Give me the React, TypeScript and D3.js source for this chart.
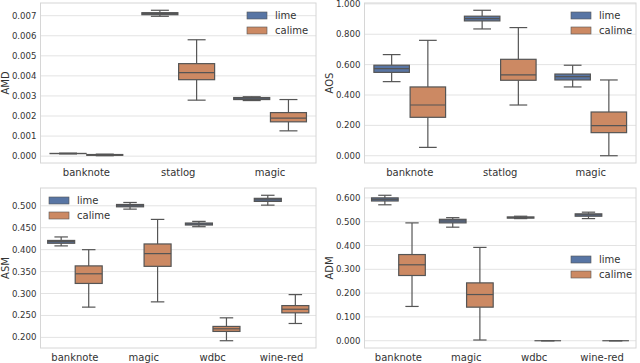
import React from "react";
import * as d3 from "d3";

type Stat = [number, number, number, number, number]; // whiskerLow, q1, median, q3, whiskerHigh

const hues = ["lime", "calime"];
const hueColors = ["#5875a4", "#cc8963"];

const amdCats = ["banknote", "statlog", "magic"];
const amdLime: Stat[] = [
  [0.00011, 0.000125, 0.00013, 0.000135, 0.00015],
  [0.00697, 0.00705, 0.0071, 0.00715, 0.00727],
  [0.00277, 0.00282, 0.00286, 0.00292, 0.00296],
];
const amdCalime: Stat[] = [
  [0.00002, 0.00004, 0.00006, 0.00008, 0.0001],
  [0.00279, 0.00381, 0.00416, 0.00461, 0.0058],
  [0.00126, 0.00171, 0.00189, 0.00217, 0.00282],
];

const aosCats = ["banknote", "statlog", "magic"];
const aosLime: Stat[] = [
  [0.488, 0.549, 0.574, 0.596, 0.666],
  [0.835, 0.888, 0.903, 0.919, 0.958],
  [0.453, 0.499, 0.521, 0.538, 0.596],
];
const aosCalime: Stat[] = [
  [0.055, 0.253, 0.334, 0.453, 0.76],
  [0.334, 0.497, 0.532, 0.635, 0.844],
  [0.0, 0.152, 0.198, 0.288, 0.499],
];

const asmCats = ["banknote", "magic", "wdbc", "wine-red"];
const asmLime: Stat[] = [
  [0.4086, 0.4146, 0.4184, 0.421, 0.429],
  [0.4924, 0.4977, 0.5, 0.503, 0.5076],
  [0.4524, 0.4562, 0.4584, 0.4607, 0.4645],
  [0.5015, 0.51, 0.5136, 0.517, 0.524],
];
const asmCalime: Stat[] = [
  [0.269, 0.323, 0.345, 0.363, 0.4],
  [0.281, 0.362, 0.391, 0.413, 0.469],
  [0.1924, 0.2136, 0.2196, 0.225, 0.2446],
  [0.2317, 0.256, 0.2642, 0.2725, 0.2975],
];

const admCats = ["banknote", "magic", "wdbc", "wine-red"];
const admLime: Stat[] = [
  [0.571, 0.587, 0.594, 0.6, 0.611],
  [0.477, 0.495, 0.503, 0.51, 0.517],
  [0.513, 0.515, 0.5175, 0.52, 0.523],
  [0.513, 0.523, 0.529, 0.533, 0.54],
];
const admCalime: Stat[] = [
  [0.144, 0.274, 0.319, 0.362, 0.495],
  [0.003, 0.141, 0.194, 0.243, 0.392],
  [0, 0, 0, 0, 0],
  [0, 0, 0, 0, 0],
];

const amdTicks = [0, 0.001, 0.002, 0.003, 0.004, 0.005, 0.006, 0.007];
const aosTicks = [0, 0.2, 0.4, 0.6, 0.8, 1.0];
const asmTicks = [0.2, 0.25, 0.3, 0.35, 0.4, 0.45, 0.5];
const admTicks = [0, 0.1, 0.2, 0.3, 0.4, 0.5, 0.6];

const LINE = "#555555";
const GRID = "#e3e3e3";
const TEXT = "#333333";
const FONT = "DejaVu Sans, sans-serif";

interface PanelProps {
  x0: number;
  x1: number;
  y0: number;
  y1: number;
  label: string;
  labelX: number;
  cats: string[];
  series: Stat[][];
  ticks: number[];
  legendX: number;
  legendY: number;
}

function Panel(p: PanelProps) {
  const all = p.series.flat(2);
  const lo = d3.min(all) as number;
  const hi = d3.max(all) as number;
  const pad = (hi - lo) * 0.05;
  const y = d3.scaleLinear().domain([lo - pad, hi + pad]).range([p.y1, p.y0]);
  const x = d3.scaleLinear().domain([-0.5, p.cats.length - 0.5]).range([p.x0, p.x1]);
  const unit = x(1) - x(0);
  const boxW = unit * 0.4 * 0.98;
  const fmt = d3.format(".3f");
  return (
    <g>
      {p.ticks.map((t) => (
        <g key={t}>
          <line x1={p.x0} x2={p.x1} y1={y(t)} y2={y(t)} stroke={GRID} strokeWidth={1} />
          <text x={p.x0 - 4} y={y(t)} dy="0.35em" textAnchor="end" fontSize={8.6} fill={TEXT} fontFamily={FONT}>
            {fmt(t)}
          </text>
        </g>
      ))}
      <rect x={p.x0} y={p.y0} width={p.x1 - p.x0} height={p.y1 - p.y0} fill="none" stroke="#d6d6d6" strokeWidth={1} />
      {p.cats.map((c, i) => (
        <text key={c} x={x(i)} y={p.y1 + 13} textAnchor="middle" fontSize={10} fill={TEXT} fontFamily={FONT}>
          {c}
        </text>
      ))}
      <text
        transform={`translate(${p.labelX},${(p.y0 + p.y1) / 2}) rotate(-90)`}
        textAnchor="middle"
        fontSize={10}
        fill={TEXT}
        fontFamily={FONT}
      >
        {p.label}
      </text>
      {p.series.map((s, h) =>
        s.map((st, i) => {
          const cx = x(i) + (h === 0 ? -0.2 : 0.2) * unit;
          const [wl, q1, md, q3, wh] = st;
          return (
            <g key={`${h}-${i}`}>
              <line x1={cx} x2={cx} y1={y(wh)} y2={y(q3)} stroke={LINE} strokeWidth={1.2} />
              <line x1={cx} x2={cx} y1={y(q1)} y2={y(wl)} stroke={LINE} strokeWidth={1.2} />
              <line x1={cx - boxW / 4} x2={cx + boxW / 4} y1={y(wh)} y2={y(wh)} stroke={LINE} strokeWidth={1.2} />
              <line x1={cx - boxW / 4} x2={cx + boxW / 4} y1={y(wl)} y2={y(wl)} stroke={LINE} strokeWidth={1.2} />
              <rect
                x={cx - boxW / 2}
                y={y(q3)}
                width={boxW}
                height={Math.max(0, y(q1) - y(q3))}
                fill={hueColors[h]}
                stroke={LINE}
                strokeWidth={1.2}
              />
              <line x1={cx - boxW / 2} x2={cx + boxW / 2} y1={y(md)} y2={y(md)} stroke={LINE} strokeWidth={1.2} />
            </g>
          );
        })
      )}
      {hues.map((hname, h) => (
        <g key={hname}>
          <rect
            x={p.legendX}
            y={p.legendY + h * 15}
            width={20}
            height={7}
            fill={hueColors[h]}
            stroke={LINE}
            strokeWidth={0.6}
          />
          <text x={p.legendX + 28} y={p.legendY + h * 15 + 3.5} dy="0.35em" fontSize={10} fill={TEXT} fontFamily={FONT}>
            {hname}
          </text>
        </g>
      ))}
    </g>
  );
}

export default function App() {
  return (
    <svg width={640} height={363} style={{ position: "absolute", left: 0, top: 0, background: "#fff" }}>
      <Panel x0={40.5} x1={316} y0={3} y1={163} label="AMD" labelX={9} cats={amdCats} series={[amdLime, amdCalime]} ticks={amdTicks} legendX={247} legendY={12} />
      <Panel x0={364.5} x1={636} y0={3} y1={163} label="AOS" labelX={333} cats={aosCats} series={[aosLime, aosCalime]} ticks={aosTicks} legendX={571} legendY={12} />
      <Panel x0={40.5} x1={316} y0={188} y1={348} label="ASM" labelX={9} cats={asmCats} series={[asmLime, asmCalime]} ticks={asmTicks} legendX={49} legendY={197} />
      <Panel x0={364.5} x1={636} y0={188} y1={348} label="ADM" labelX={333} cats={admCats} series={[admLime, admCalime]} ticks={admTicks} legendX={571} legendY={256} />
    </svg>
  );
}
